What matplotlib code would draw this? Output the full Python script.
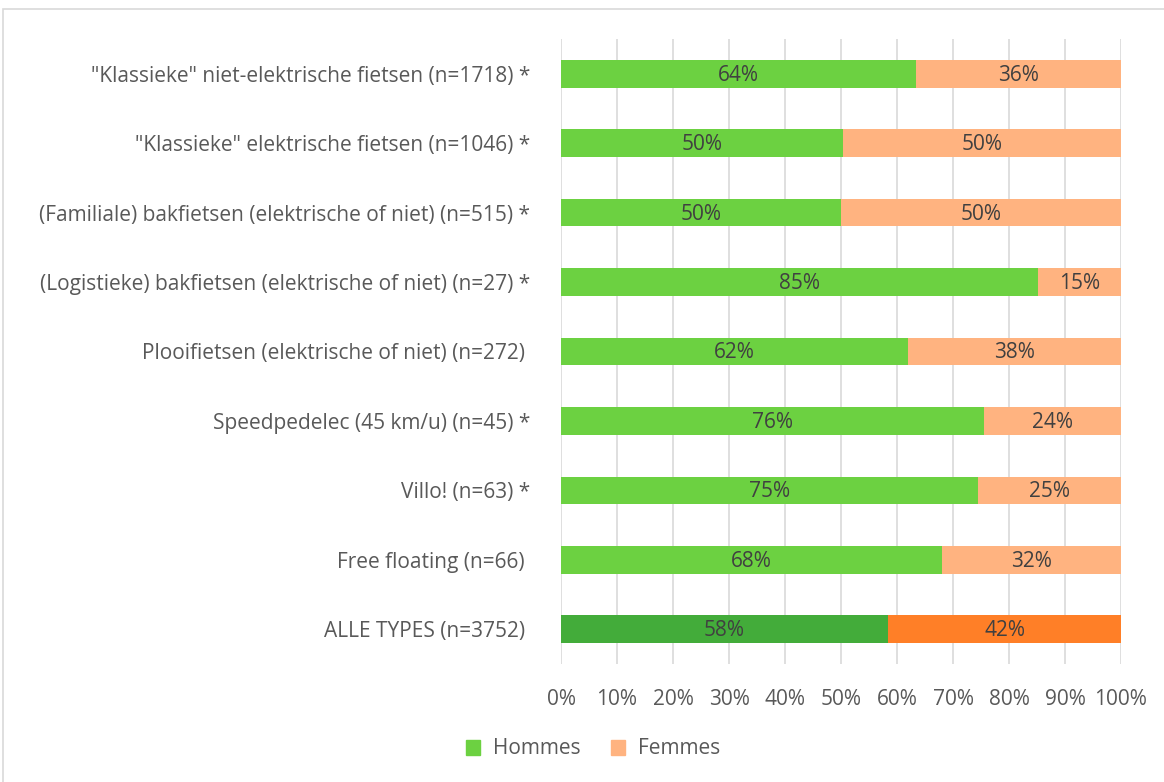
import matplotlib
matplotlib.use("Agg")
from matplotlib import pyplot as plt
from matplotlib.patches import Rectangle
import numpy as np

categories = [
    '"Klassieke" niet-elektrische fietsen (n=1718) *',
    '"Klassieke" elektrische fietsen (n=1046) *',
    '(Familiale) bakfietsen (elektrische of niet) (n=515) *',
    '(Logistieke) bakfietsen (elektrische of niet) (n=27) *',
    'Plooifietsen (elektrische of niet) (n=272) ',
    'Speedpedelec (45 km/u) (n=45) *',
    'Villo! (n=63) *',
    'Free floating (n=66) ',
    'ALLE TYPES (n=3752) ',
]
hommes = [63.4, 50.4, 50.0, 85.2, 62.0, 75.5, 74.5, 68.0, 58.4]
femmes = [100 - h for h in hommes]
hommes_lbl = ["64%", "50%", "50%", "85%", "62%", "76%", "75%", "68%", "58%"]
femmes_lbl = ["36%", "50%", "50%", "15%", "38%", "24%", "25%", "32%", "42%"]

plt.rcParams['font.family'] = ['Open Sans', 'DejaVu Sans']

def go():
    fig = plt.figure(figsize=(11.64, 7.82), dpi=100)
    # light frame around the chart area
    fig.patches.append(Rectangle((3 / 1164, -0.01), 1.0, 1 - 9 / 782 + 0.01,
                                 transform=fig.transFigure, fill=False,
                                 edgecolor="#d9d9d9", lw=1.2))
    ax = fig.add_axes([561 / 1164, 1 - 664 / 782, 560 / 1164, 625 / 782])

    y = np.arange(len(categories))
    c_h = ["#6cd141"] * (len(categories) - 1) + ["#43ac3a"]
    c_f = ["#ffb380"] * (len(categories) - 1) + ["#ff7f27"]
    ax.barh(y, hommes, height=0.4, color=c_h, zorder=3)
    ax.barh(y, femmes, left=hommes, height=0.4, color=c_f, zorder=3)

    for i in range(len(categories)):
        ax.text(hommes[i] / 2, y[i] + 0.02, hommes_lbl[i], ha="center", va="center",
                fontsize=15, color="#404040", zorder=4)
        ax.text(hommes[i] + femmes[i] / 2, y[i] + 0.02, femmes_lbl[i], ha="center",
                va="center", fontsize=15, color="#404040", zorder=4)

    ax.set_xlim(0, 100)
    ax.set_ylim(len(categories) - 0.5, -0.5)
    ax.set_xticks(np.arange(0, 101, 10))
    ax.set_xticklabels([f"{v}%" for v in range(0, 101, 10)])
    ax.set_yticks(y)
    ax.set_yticklabels(categories)
    ax.tick_params(axis="both", length=0, labelcolor="#595959", labelsize=15)
    ax.tick_params(axis="y", pad=22)
    ax.tick_params(axis="x", pad=18)
    ax.grid(axis="x", color="#d9d9d9", lw=1.2, zorder=0)
    for s in ax.spines.values():
        s.set_visible(False)

    hh = Rectangle((0, 0), 1, 1, color="#6cd141")
    hf = Rectangle((0, 0), 1, 1, color="#ffb380")
    fig.legend([hh, hf], ["Hommes", "Femmes"], loc="center",
               bbox_to_anchor=(593 / 1164, 1 - 749 / 782), ncol=2, frameon=False,
               fontsize=15, labelcolor="#595959", handlelength=0.7,
               handleheight=0.7, columnspacing=1.45, handletextpad=0.6)

    fig.savefig("out.png", dpi=100)

go()
